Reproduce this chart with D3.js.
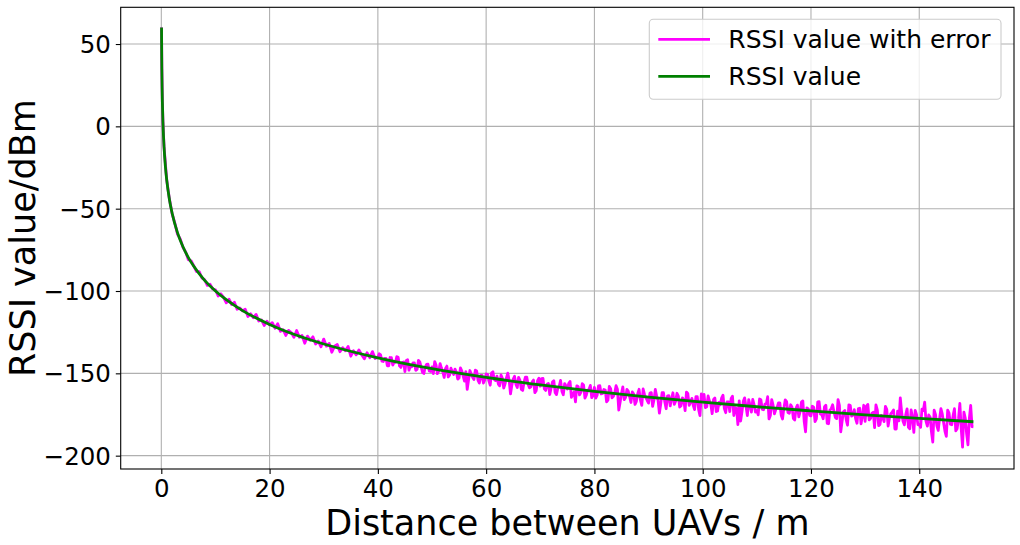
<!DOCTYPE html>
<html>
<head>
<meta charset="utf-8">
<script src="https://cdn.jsdelivr.net/npm/d3@7"></script>
<style>
  body { margin: 0; background: #fff; }
  text { font-family: "DejaVu Sans", sans-serif; fill: #000; }
</style>
</head>
<body>
<div id="rssi-chart"></div>
<script>
// distances (m) and model RSSI (dBm)
const rssiDist = [0.043, 0.06, 0.08, 0.1, 0.15, 0.2, 0.3, 0.4, 0.5, 0.75, 1, 1.5, 2, 3, 4, 5, 6, 8, 10, 12, 15, 20,
  25, 30, 40, 50, 60, 70, 80, 90, 100, 110, 120, 130, 140, 150];
const rssiValues = [60, 50.0, 41.5, 35.0, 23.1, 14.7, 2.8, -5.6, -12.2, -24.1, -32.5, -44.4, -52.8, -64.7, -73.1, -79.7,
  -85.0, -93.5, -100.0, -105.3, -111.9, -120.3, -126.9, -132.2, -140.6, -147.2, -152.5, -157.0, -161.0, -164.4,
  -167.5, -170.3, -172.8, -175.2, -177.4, -179.4];

// noisy RSSI (magenta): first four at the near points, then every 0.5 m from 0.5 to 150
const errorNear = [0.043, 0.1, 0.2, 0.3];
const errorStep = 0.5;
const rssiErrorValues = [
  60, 35.0, 14.7, 2.8,
  -12.2, -32.6, -44.2, -53.1,
  -58.8, -65.6, -68.4, -73.5, -76.3, -81.0, -81.6, -84.8, -88.2, -88.2, -92.1, -93.1, -96.6, -95.9, -98.8, -99.3,
  -103.0, -101.7, -103.9, -107.2, -105.0, -108.2, -106.8, -111.1, -110.3, -112.1,
  -111.1, -115.5, -113.8, -116.2, -114.2, -118.2, -117.6, -120.9, -118.3, -120.6,
  -119.2, -122.6, -119.9, -124.5, -123.5, -127.0, -123.9, -125.2, -128.1, -124.0,
  -128.1, -127.0, -131.7, -127.4, -129.9, -127.8, -132.2, -130.4, -133.9, -129.2,
  -133.5, -131.8, -137.2, -133.5, -132.5, -136.9, -134.4, -136.3, -133.7, -139.6,
  -136.3, -138.8, -135.8, -138.7, -141.2, -137.5, -140.5, -136.8, -141.0, -140.1,
  -138.8, -142.8, -140.9, -145.4, -140.5, -143.3, -139.9, -145.5, -143.4, -148.9,
  -141.8, -145.7, -143.6, -148.2, -142.1, -146.3, -150.1, -144.6, -148.6, -146.1,
  -142.9, -150.2, -144.1, -149.2, -147.0, -152.2, -146.9, -150.7, -149.2, -152.8,
  -148.5, -154.7, -159.8, -148.3, -152.4, -148.1, -154.3, -151.3, -155.9, -150.4,
  -154.6, -149.7, -153.7, -151.7, -157.6, -153.0, -156.4, -149.9, -162.5, -153.5,
  -156.7, -152.4, -159.8, -155.4, -152.3, -158.8, -155.2, -161.7, -154.4, -157.8,
  -153.1, -160.4, -156.1, -159.0, -154.5, -162.9, -157.9, -161.0, -156.2, -159.5,
  -154.9, -162.8, -167.3, -158.0, -161.5, -157.1, -163.3, -159.8, -164.8, -158.5,
  -163.3, -157.5, -162.2, -160.1, -166.3, -159.3, -164.0, -157.5, -172.3, -162.2,
  -166.0, -159.8, -164.2, -161.3, -168.9, -162.4, -166.3, -159.5, -164.8, -168.1,
  -161.7, -166.2, -164.0, -174.2, -161.7, -167.4, -163.7, -169.8, -161.8, -166.9,
  -163.8, -169.7, -166.1, -161.4, -169.5, -165.2, -172.0, -164.2, -175.7, -166.3,
  -170.8, -163.7, -169.0, -165.9, -173.2, -167.6, -164.9, -171.4, -167.3, -173.2,
  -163.9, -170.8, -181.1, -179.0, -167.0, -170.1, -166.0, -173.6, -169.2, -172.5,
  -165.6, -171.9, -168.7, -164.2, -175.6, -169.3, -172.0, -167.9, -175.4, -171.0,
  -167.2, -174.3, -170.6, -178.3, -169.3, -173.3, -166.8, -185.5, -171.6, -175.8,
  -170.5, -177.6, -167.2, -175.1, -170.3, -180.4, -172.4, -169.1, -176.8, -166.0,
  -185.5, -173.4, -178.1, -169.2, -176.0, -172.1, -180.3, -171.2, -175.7, -179.2,
  -168.9, -177.5, -173.6, -169.1, -181.8, -175.5, -179.3, -171.9, -177.2, -173.5,
  -183.8, -173.0, -164.9, -179.1, -175.2, -182.8, -172.2, -185.9, -175.1, -181.0,
  -171.8, -167.5, -182.1, -176.5, -191.7, -175.0, -184.7, -171.4, -180.0, -188.3,
  -174.1, -181.2, -171.5, -183.6, -168.3, -194.8, -177.1, -193.4, -169.5, -182.5
];
// extra noisy readings between those, every 0.5 m from 40.25 to 149.75
const midStart = 40.25;
const rssiErrorMidValues = [
  -138.1, -142.6, -140.9, -145.4, -140.4, -145.0, -143.3, -140.3, -146.4, -143.1,
  -142.2, -148.1, -146.0, -143.7, -147.6, -143.1, -149.4, -146.2, -144.4, -148.9,
  -150.2, -144.9, -148.7, -146.8, -152.5, -145.6, -151.1, -149.0, -147.5, -153.5,
  -146.7, -151.6, -149.0, -154.1, -150.5, -153.8, -148.6, -155.9, -151.2, -154.0,
  -150.6, -157.2, -149.1, -154.4, -156.5, -151.0, -158.9, -152.7, -154.2, -157.2,
  -151.8, -158.6, -154.2, -160.4, -152.3, -156.6, -158.2, -154.1, -160.5, -152.9,
  -153.2, -159.4, -156.6, -162.9, -155.3, -161.8, -158.9, -154.3, -163.0, -157.7,
  -156.2, -164.6, -161.2, -157.6, -163.1, -156.3, -165.0, -160.1, -157.3, -163.5,
  -165.0, -157.6, -162.5, -159.8, -167.3, -157.9, -164.9, -161.8, -159.7, -167.6,
  -158.2, -164.7, -160.8, -167.7, -162.6, -167.0, -159.7, -169.5, -162.8, -166.5,
  -162.0, -170.1, -159.8, -166.2, -168.7, -161.8, -171.5, -163.6, -165.3, -168.9,
  -162.1, -170.5, -164.9, -172.6, -162.2, -167.5, -169.4, -164.2, -172.1, -162.5,
  -162.8, -170.3, -166.8, -174.5, -165.0, -172.9, -169.1, -163.3, -173.9, -167.3,
  -165.3, -175.6, -171.3, -166.7, -173.5, -164.9, -175.7, -169.5, -165.9, -173.6,
  -175.2, -166.0, -172.1, -168.6, -177.7, -166.0, -174.6, -170.7, -168.0, -177.7,
  -166.1, -173.8, -169.1, -177.5, -171.1, -176.4, -167.4, -179.3, -171.0, -175.5,
  -170.0, -179.3, -167.3, -174.7, -177.6, -169.4, -180.6, -171.4, -173.3, -177.5,
  -169.5, -179.1, -172.6, -181.5, -169.4, -175.4, -177.6, -171.4, -180.7, -169.4,
  -169.9, -178.3, -174.3, -183.0, -172.2, -181.0, -176.7, -170.1, -182.0, -174.5,
  -172.2, -183.8, -178.8, -173.7, -181.3, -171.6, -183.7, -176.6, -172.5, -181.1,
  -182.8, -172.6, -179.2, -175.3, -185.5, -172.4, -181.9, -177.6, -174.6, -185.2,
  -172.3, -180.9, -175.6, -184.9, -177.7, -183.6, -173.5, -186.8, -177.4, -182.4
];

const xTicks = [0, 20, 40, 60, 80, 100, 120, 140];
const yTicks = [-200, -150, -100, -50, 0, 50];
const seriesNames = ["RSSI value with error", "RSSI value"];
const seriesColors = ["#ff00ff", "#008000"];

const errorDist = errorNear.concat(d3.range(1, rssiErrorValues.length - errorNear.length + 1).map(i => i * errorStep));
const midDist = rssiErrorMidValues.map((v, i) => midStart + i * errorStep);
const errorPoints = d3.zip(errorDist, rssiErrorValues)
  .concat(d3.zip(midDist, rssiErrorMidValues))
  .sort((a, b) => a[0] - b[0]);

let width = 1020,
    height = 545,
    margin = ({ top: 7.3, right: 6, bottom: 76, left: 120.7 });

const svg = d3.select("#rssi-chart")
  .append("svg")
  .attr("width", width)
  .attr("height", height);

let x = d3.scaleLinear()
  .domain([-7.5, 157.5])
  .range([margin.left, width - margin.right]);

let y = d3.scaleLinear()
  .domain([-208.1, 72.3])
  .range([height - margin.bottom, margin.top]);

let fmt = d => d3.format("d")(d).replace("-", "\u2212");

// grid
svg.append("g")
  .selectAll("line")
  .data(xTicks)
  .join("line")
  .attr("x1", d => x(d)).attr("x2", d => x(d))
  .attr("y1", margin.top).attr("y2", height - margin.bottom)
  .attr("stroke", "#b0b0b0")
  .attr("stroke-width", 1.1);

svg.append("g")
  .selectAll("line")
  .data(yTicks)
  .join("line")
  .attr("x1", margin.left).attr("x2", width - margin.right)
  .attr("y1", d => y(d)).attr("y2", d => y(d))
  .attr("stroke", "#b0b0b0")
  .attr("stroke-width", 1.1);

// lines
let line = d3.line()
  .x(d => x(d[0]))
  .y(d => y(d[1]));

svg.append("path")
  .datum(errorPoints)
  .attr("fill", "none")
  .attr("stroke", seriesColors[0])
  .attr("stroke-width", 2.8)
  .attr("stroke-linejoin", "round")
  .attr("d", line);

svg.append("path")
  .datum(d3.zip(rssiDist, rssiValues))
  .attr("fill", "none")
  .attr("stroke", seriesColors[1])
  .attr("stroke-width", 2.8)
  .attr("stroke-linejoin", "round")
  .attr("d", line.curve(d3.curveMonotoneX));

// axes
let xAxis = svg.append("g")
  .attr("transform", `translate(0,${height - margin.bottom})`)
  .call(d3.axisBottom(x).tickValues(xTicks).tickFormat(fmt).tickSize(4.9).tickPadding(4.9));

let yAxis = svg.append("g")
  .attr("transform", `translate(${margin.left},0)`)
  .call(d3.axisLeft(y).tickValues(yTicks).tickFormat(fmt).tickSize(4.9).tickPadding(4.9));

for (let ax of [xAxis, yAxis]) {
  ax.select(".domain").remove();
  ax.selectAll(".tick line").attr("stroke", "#000").attr("stroke-width", 1.1);
  ax.selectAll(".tick text")
    .attr("font-family", "DejaVu Sans")
    .attr("font-size", 24.5)
    .attr("fill", "#000");
}
xAxis.selectAll(".tick text").attr("dy", null).attr("y", 28);
yAxis.selectAll(".tick text").attr("dy", null).attr("dominant-baseline", "central");

// frame
svg.append("rect")
  .attr("x", margin.left)
  .attr("y", margin.top)
  .attr("width", width - margin.right - margin.left)
  .attr("height", height - margin.bottom - margin.top)
  .attr("fill", "none")
  .attr("stroke", "#000")
  .attr("stroke-width", 1.1);

// axis titles
svg.append("text")
  .text("Distance between UAVs / m")
  .attr("x", (margin.left + width - margin.right) / 2)
  .attr("y", 534.5)
  .attr("text-anchor", "middle")
  .attr("font-size", 35);

svg.append("text")
  .text("RSSI value/dBm")
  .attr("transform", `translate(35,${(margin.top + height - margin.bottom) / 2}) rotate(-90)`)
  .attr("text-anchor", "middle")
  .attr("font-size", 35);

// legend
let legend = svg.append("g");

legend.append("rect")
  .attr("x", 649.3)
  .attr("y", 19.3)
  .attr("width", 351.7)
  .attr("height", 80)
  .attr("rx", 4)
  .attr("fill", "#fff")
  .attr("fill-opacity", 0.8)
  .attr("stroke", "#cccccc")
  .attr("stroke-width", 1.1);

seriesNames.forEach((name, i) => {
  let ly = 39.3 + i * 37;
  legend.append("line")
    .attr("x1", 658.3).attr("x2", 710)
    .attr("y1", ly).attr("y2", ly)
    .attr("stroke", seriesColors[i])
    .attr("stroke-width", 2.8);
  legend.append("text")
    .text(name)
    .attr("x", 728.3)
    .attr("y", ly)
    .attr("dominant-baseline", "central")
    .attr("font-size", 25);
});
</script>
</body>
</html>
